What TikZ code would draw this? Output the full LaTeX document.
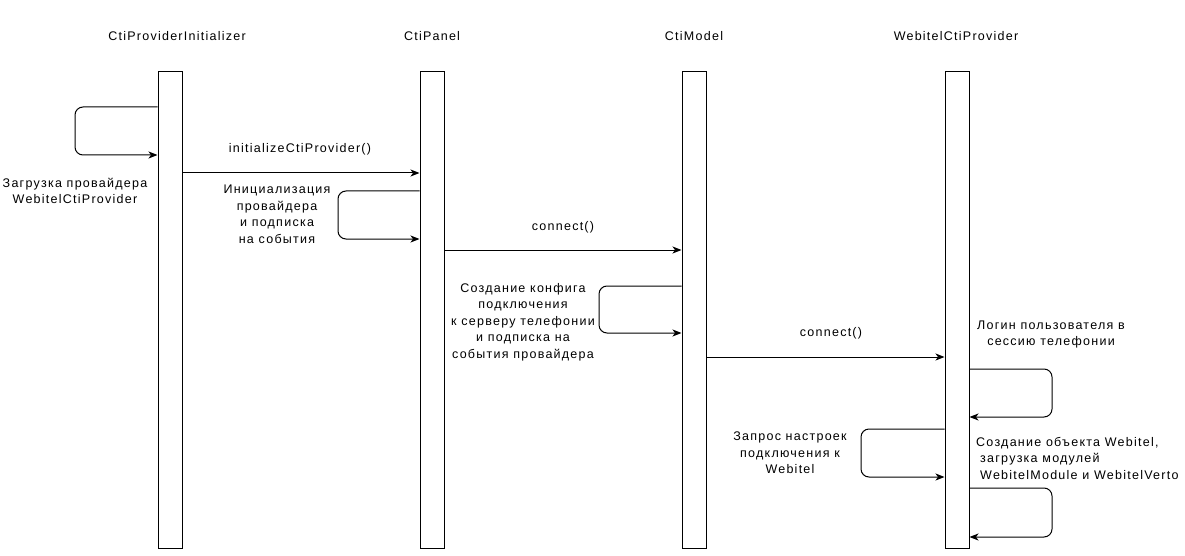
\documentclass[tikz,border=0pt]{standalone}
\usepackage{fontspec}
\setmainfont[LetterSpace=10]{Liberation Sans}
\usetikzlibrary{arrows.meta}
\begin{document}
\begin{tikzpicture}[x=1pt,y=-1pt,
  bar/.style={draw=black,line width=1pt,fill=white,minimum width=24pt,minimum height=476pt,inner sep=0pt},
  lbl/.style={font=\fontsize{12.5}{16.5}\selectfont,text=black,inner sep=0pt,align=center},
  msg/.style={draw=black,line width=1pt,-{Stealth[length=9pt,width=7pt,inset=2.5pt]}},
  selfmsg/.style={msg,rounded corners=8pt}]
\useasboundingbox (0,0) rectangle (1185,556);
\fill[white] (0,0) rectangle (1185,556);
% headers
\node[lbl] (h1) at (177,36) {CtiProviderInitializer};
\node[lbl] (h2) at (432,36) {CtiPanel};
\node[lbl] (h3) at (694,36) {CtiModel};
\node[lbl] (h4) at (956,36) {WebitelCtiProvider};
% activation bars
\node[bar] (b1) at (170,310) {};
\node[bar] (b2) at (432,310) {};
\node[bar] (b3) at (694,310) {};
\node[bar] (b4) at (957,310) {};
% loop 1
\draw[selfmsg] (b1.west |- 0,107) -- (75,107) -- (75,155) -- (b1.west |- 0,155);
\node[lbl] (t1) at (75,191) {Загрузка провайдера\\WebitelCtiProvider};
% initializeCtiProvider
\draw[msg] (b1.east |- 0,173) -- (b2.west |- 0,173);
\node[lbl] (m1) at (300,149) {initializeCtiProvider()};
% loop 2
\draw[selfmsg] (b2.west |- 0,191) -- (338,191) -- (338,239) -- (b2.west |- 0,239);
\node[lbl] (t2) at (277,214.5) {Инициализация\\провайдера\\и подписка\\на события};
% connect 1
\draw[msg] (b2.east |- 0,250) -- (b3.west |- 0,250);
\node[lbl] (m2) at (563,227) {connect()};
% loop 3
\draw[selfmsg] (b3.west |- 0,286) -- (599,286) -- (599,333) -- (b3.west |- 0,333);
\node[lbl] (t3) at (523,322) {Создание конфига\\подключения\\к серверу телефонии\\и подписка на\\события провайдера};
% connect 2
\draw[msg] (b3.east |- 0,357) -- (b4.west |- 0,357);
\node[lbl] (m3) at (831,333) {connect()};
% loop 4
\draw[selfmsg] (b4.east |- 0,369) -- (1052,369) -- (1052,417) -- (b4.east |- 0,417);
\node[lbl] (t4) at (1051,334.5) {Логин пользователя в\\сессию телефонии};
% loop 5
\draw[selfmsg] (b4.west |- 0,429) -- (861,429) -- (861,477) -- (b4.west |- 0,477);
\node[lbl] (t5) at (790,453) {Запрос настроек\\подключения к\\Webitel};
% loop 6
\draw[selfmsg] (b4.east |- 0,488) -- (1052,488) -- (1052,537) -- (b4.east |- 0,537);
\node[lbl,align=left,anchor=west] (t6) at (976,458) {Создание объекта Webitel,\\\hspace*{4pt}загрузка модулей\\\hspace*{4pt}WebitelModule и WebitelVerto};
\end{tikzpicture}
\end{document}
